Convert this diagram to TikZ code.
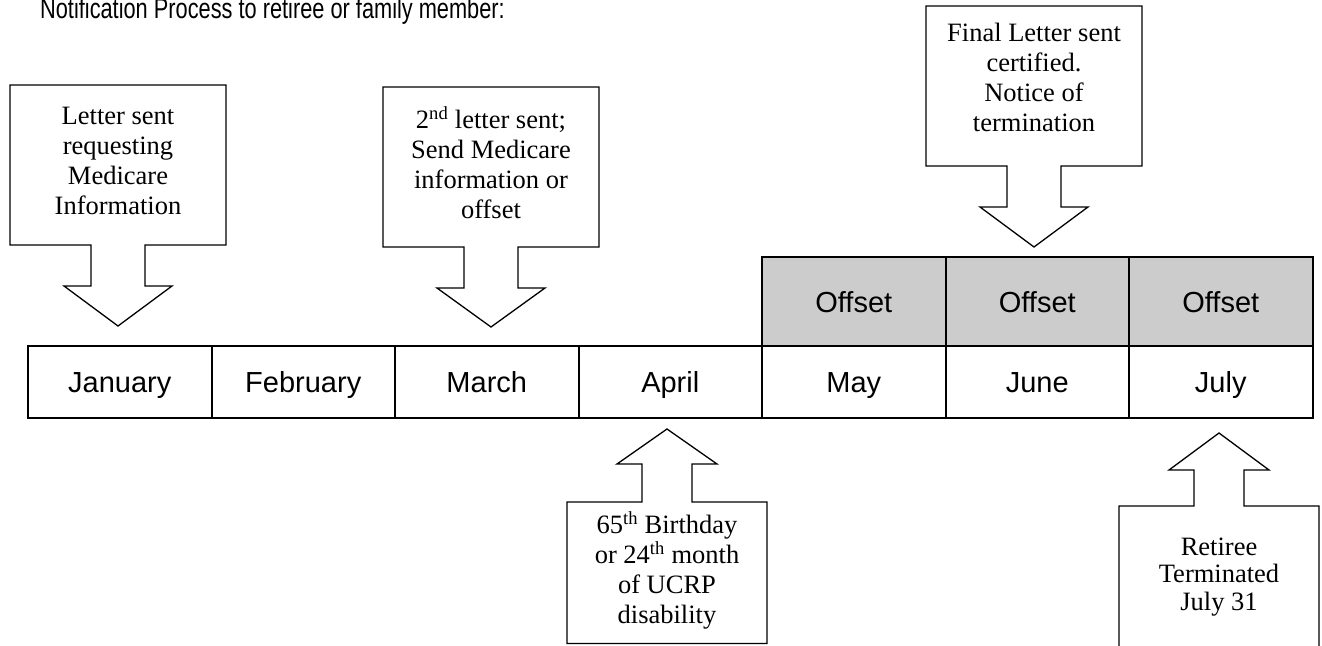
\documentclass[tikz,border=0pt]{standalone}
\usepackage{fontspec}
\setmainfont{Liberation Serif}
\newfontfamily\arialfont{Liberation Sans}
\definecolor{offsetgrey}{HTML}{CCCCCC}
\begin{document}
\begin{tikzpicture}[x=1pt,y=-1pt,
  callout/.style={draw=black,line width=1.3pt,fill=white,line join=miter},
  calltext/.style={align=center,inner sep=0pt,font=\fontsize{26.5}{30}\selectfont},
  monthcell/.style={draw=black,line width=2pt,minimum width=183.5pt,minimum height=72pt,inner sep=0pt,text height=27pt,text depth=6pt,font=\arialfont\fontsize{29}{33}\selectfont},
  offsetcell/.style={monthcell,fill=offsetgrey,minimum height=89pt},
  titletext/.style={anchor=base west,inner sep=0pt,font=\arialfont\fontsize{28.5}{32}\selectfont,xscale=0.764}]
\useasboundingbox (0,0) rectangle (1322,645);
\fill[white] (0,0) rectangle (1322,645);

% title
\node[titletext] (title) at (40,18.5) {Notification Process to retiree or family member:};

% month row
\node[monthcell] (jan) at (119.75,382) {January};
\node[monthcell] (feb) at (303.25,382) {February};
\node[monthcell] (mar) at (486.75,382) {March};
\node[monthcell] (apr) at (670.25,382) {April};
\node[monthcell] (may) at (853.75,382) {May};
\node[monthcell] (jun) at (1037.25,382) {June};
\node[monthcell] (jul) at (1220.75,382) {July};

% offset row
\node[offsetcell] (offmay) at (853.75,301.5) {Offset};
\node[offsetcell] (offjun) at (1037.25,301.5) {Offset};
\node[offsetcell] (offjul) at (1220.75,301.5) {Offset};

% callout 1 (January)
\draw[callout] (10,85) -- (226,85) -- (226,245) -- (145,245) -- (145,286) -- (172,286)
  -- (118,326) -- (64,286) -- (91,286) -- (91,245) -- (10,245) -- cycle;
\node[calltext] (c1) at (118,161) {Letter sent\\requesting\\Medicare\\Information};

% callout 2 (March)
\draw[callout] (383,87) -- (599,87) -- (599,247) -- (518,247) -- (518,288) -- (545,288)
  -- (491,327) -- (437,288) -- (464,288) -- (464,247) -- (383,247) -- cycle;
\node[calltext] (c2) at (491,163) {2\textsuperscript{nd} letter sent;\\Send Medicare\\information or\\offset};

% callout 3 (June)
\draw[callout] (926,6) -- (1142,6) -- (1142,166) -- (1061,166) -- (1061,207) -- (1088,207)
  -- (1034,247) -- (980,207) -- (1007,207) -- (1007,166) -- (926,166) -- cycle;
\node[calltext] (c3) at (1034,77) {Final Letter sent\\certified.\\Notice of\\termination};

% callout 4 (April, upward)
\draw[callout] (567,643.5) -- (567,502) -- (642,502) -- (642,464) -- (617,464)
  -- (667,429) -- (717,464) -- (692,464) -- (692,502) -- (767,502) -- (767,643.5) -- cycle;
\node[calltext] (c4) at (667,570) {65\textsuperscript{th} Birthday\\or 24\textsuperscript{th} month\\of UCRP\\disability};

% callout 5 (July, upward)
\draw[callout] (1119,650) -- (1119,506) -- (1194,506) -- (1194,470) -- (1169,470)
  -- (1219,433) -- (1269,470) -- (1244,470) -- (1244,506) -- (1319,506) -- (1319,650);
\node[calltext,font=\fontsize{26.5}{27.5}\selectfont] (c5) at (1219,577) {Retiree\\Terminated\\July 31};
\end{tikzpicture}
\end{document}
